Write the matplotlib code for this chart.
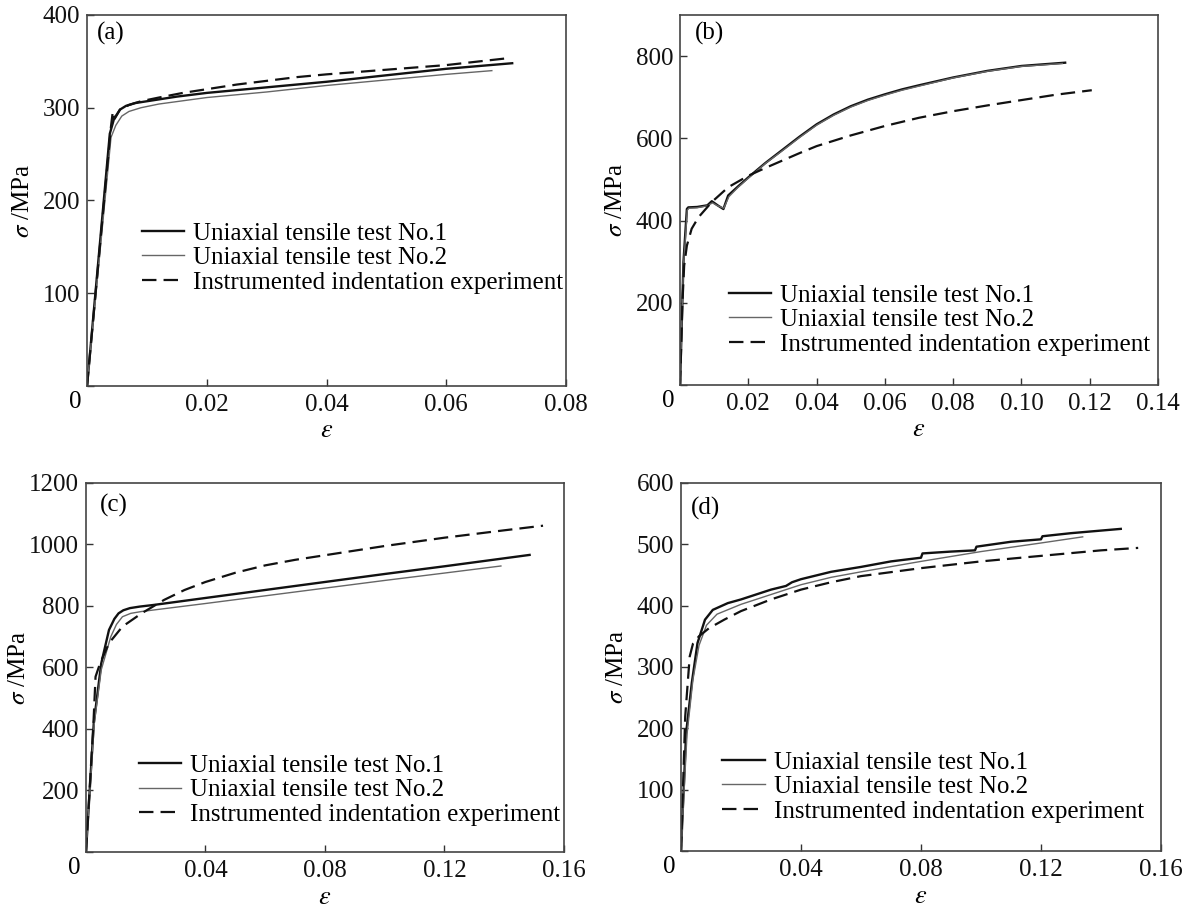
import matplotlib
matplotlib.use("Agg")
import matplotlib.pyplot as plt

plt.rcParams['font.family'] = ['Liberation Serif', 'DejaVu Serif']
plt.rcParams['mathtext.fontset'] = 'stix'

# ---- data (strain, stress in MPa) ----
# (a)
eps_a1 = [0, 0.0038, 0.0045, 0.0055, 0.0065, 0.008, 0.011, 0.015, 0.02, 0.03, 0.04, 0.05, 0.06, 0.071]
sig_a1 = [0, 272, 288, 298, 302, 305, 308, 312, 316, 322, 328, 335, 342, 348]
eps_a2 = [0, 0.0040, 0.0048, 0.0058, 0.007, 0.009, 0.012, 0.02, 0.03, 0.04, 0.05, 0.06, 0.0676]
sig_a2 = [0, 268, 281, 291, 296, 300, 304, 311, 317, 324, 330, 336, 340]
eps_a3 = [0, 0.0040, 0.0043, 0.0046, 0.0055, 0.007, 0.009, 0.012, 0.016, 0.02, 0.025, 0.03, 0.035,
          0.04, 0.05, 0.06, 0.0697]
sig_a3 = [0, 280, 296, 288, 298, 303, 307, 311, 316, 320, 325, 329, 333, 336, 341, 346, 353]

# (b)
eps_b1 = [0, 0.001, 0.0015, 0.0020, 0.0024, 0.005, 0.008, 0.0093, 0.011, 0.0127, 0.0141, 0.017, 0.02,
          0.025, 0.03, 0.035, 0.04, 0.045, 0.05, 0.055, 0.06, 0.065, 0.07, 0.08, 0.09, 0.10, 0.1128]
sig_b1 = [0, 299, 364, 428, 432, 433, 437, 447, 437, 428, 461, 483, 505,
          540, 572, 604, 634, 658, 678, 694, 707, 719, 729, 748, 764, 776, 784]
eps_b2 = [0, 0.001, 0.0016, 0.0021, 0.0026, 0.005, 0.008, 0.0095, 0.011, 0.0128, 0.0143, 0.017, 0.02,
          0.025, 0.03, 0.035, 0.04, 0.045, 0.05, 0.055, 0.06, 0.065, 0.07, 0.08, 0.09, 0.10, 0.112]
sig_b2 = [0, 290, 360, 425, 430, 431, 436, 443, 436, 430, 458, 481, 503,
          539, 570, 602, 632, 656, 676, 692, 705, 717, 727, 747, 763, 775, 782]
eps_b3 = [0, 0.0007, 0.0012, 0.002, 0.0034, 0.0054, 0.0093, 0.0141, 0.02, 0.025, 0.03, 0.035, 0.04,
          0.05, 0.06, 0.07, 0.08, 0.09, 0.10, 0.11, 0.1206]
sig_b3 = [0, 200, 290, 339, 380, 408, 445, 481, 509, 528, 546, 564, 581,
          607, 630, 650, 666, 680, 693, 706, 717]

# (c)
eps_c1 = [0, 0.0026, 0.0051, 0.0077, 0.0095, 0.0109, 0.0125, 0.0147, 0.018, 0.0224, 0.04, 0.06, 0.08,
          0.10, 0.12, 0.1485]
sig_c1 = [0, 418, 613, 722, 758, 776, 786, 793, 798, 803, 826, 852, 878, 904, 929, 966]
eps_c2 = [0, 0.0028, 0.0051, 0.0083, 0.0102, 0.0122, 0.015, 0.0186, 0.04, 0.06, 0.08, 0.10, 0.12, 0.1389]
sig_c2 = [0, 420, 592, 700, 740, 765, 776, 782, 808, 833, 858, 883, 907, 930]
eps_c3 = [0, 0.0025, 0.0032, 0.0047, 0.0077, 0.0122, 0.0186, 0.0262, 0.033, 0.04, 0.05, 0.06, 0.07,
          0.08, 0.10, 0.12, 0.14, 0.153]
sig_c3 = [0, 420, 570, 613, 679, 733, 776, 820, 852, 878, 908, 932, 950, 965, 995, 1022, 1046, 1061]

# (d)
eps_d1 = [0, 0.0017, 0.0036, 0.0055, 0.008, 0.0106, 0.0156, 0.02, 0.03, 0.035, 0.037, 0.04, 0.05,
          0.06, 0.07, 0.08, 0.0805, 0.09, 0.098, 0.0985, 0.11, 0.12, 0.1205, 0.13, 0.1466]
sig_d1 = [0, 192, 274, 339, 377, 393, 404, 410, 426, 432, 438, 443, 455,
          463, 472, 478, 485, 488, 490, 496, 504, 508, 513, 518, 525]
eps_d2 = [0, 0.002, 0.004, 0.006, 0.0085, 0.012, 0.02, 0.03, 0.04, 0.05, 0.06, 0.08, 0.10, 0.12, 0.1339]
sig_d2 = [0, 190, 280, 335, 368, 386, 402, 418, 434, 446, 455, 472, 488, 502, 512]
eps_d3 = [0, 0.0014, 0.0029, 0.004, 0.006, 0.0093, 0.0144, 0.02, 0.03, 0.04, 0.05, 0.06, 0.08, 0.10,
          0.12, 0.14, 0.1524]
sig_d3 = [0, 219, 317, 338, 350, 363, 377, 391, 410, 426, 438, 448, 461, 472, 481, 490, 494]

labels = ['Uniaxial tensile test No.1', 'Uniaxial tensile test No.2', 'Instrumented indentation experiment']

panels = [
    dict(tag='(a)', rect=[0.0734, 0.5754, 0.4039, 0.4081], xlim=0.08, xticks=[0, 0.02, 0.04, 0.06, 0.08],
         xlab=['', '0.02', '0.04', '0.06', '0.08'], ylim=400, yticks=[0, 100, 200, 300, 400],
         data=[(eps_a1, sig_a1), (eps_a2, sig_a2), (eps_a3, sig_a3)],
         leg=(0.114, 0.345), tagpos=(0.02, 0.95), ylx=-0.11),
    dict(tag='(b)', rect=[0.5734, 0.5765, 0.4030, 0.4070], xlim=0.14,
         xticks=[0, 0.02, 0.04, 0.06, 0.08, 0.10, 0.12, 0.14],
         xlab=['', '0.02', '0.04', '0.06', '0.08', '0.10', '0.12', '0.14'], ylim=900,
         yticks=[0, 200, 400, 600, 800],
         data=[(eps_b1, sig_b1), (eps_b2, sig_b2), (eps_b3, sig_b3)],
         leg=(0.102, 0.176), tagpos=(0.03, 0.95), ylx=-0.11),
    dict(tag='(c)', rect=[0.0725, 0.0627, 0.4030, 0.4060], xlim=0.16, xticks=[0, 0.04, 0.08, 0.12, 0.16],
         xlab=['', '0.04', '0.08', '0.12', '0.16'], ylim=1200, yticks=[0, 200, 400, 600, 800, 1000, 1200],
         data=[(eps_c1, sig_c1), (eps_c2, sig_c2), (eps_c3, sig_c3)],
         leg=(0.110, 0.168), tagpos=(0.029, 0.94), ylx=-0.118),
    dict(tag='(d)', rect=[0.5742, 0.0638, 0.4047, 0.4050], xlim=0.16, xticks=[0, 0.04, 0.08, 0.12, 0.16],
         xlab=['', '0.04', '0.08', '0.12', '0.16'], ylim=600, yticks=[0, 100, 200, 300, 400, 500, 600],
         data=[(eps_d1, sig_d1), (eps_d2, sig_d2), (eps_d3, sig_d3)],
         leg=(0.086, 0.174), tagpos=(0.02, 0.93), ylx=-0.11),
]

fig = plt.figure(figsize=(11.86, 9.09), dpi=100)
fs = 18

for p in panels:
    ax = fig.add_axes(p['rect'])
    (x1, y1), (x2, y2), (x3, y3) = p['data']
    ax.plot(x1, y1, color='#111111', lw=1.7, label=labels[0])
    ax.plot(x2, y2, color='#666666', lw=1.0, label=labels[1])
    ax.plot(x3, y3, color='#111111', lw=1.6, dashes=(6.5, 3.2), label=labels[2])

    ax.set_xlim(0, p['xlim'])
    ax.set_ylim(0, p['ylim'])
    ax.set_xticks(p['xticks'])
    ax.set_xticklabels(p['xlab'])
    ax.set_yticks(p['yticks'])
    ax.set_yticklabels([''] + [str(v) for v in p['yticks'][1:]])
    ax.tick_params(direction='in', length=5, width=1.0, colors='#333333', labelcolor='#111111',
                   labelsize=fs)
    ax.tick_params(axis='x', pad=6)
    ax.tick_params(axis='y', pad=5)
    for s in ax.spines.values():
        s.set_color('#444444')
        s.set_linewidth(1.2)

    ax.text(-0.025, -0.014, '0', transform=ax.transAxes, ha='center', va='top', fontsize=fs)
    ax.text(p['tagpos'][0], p['tagpos'][1], p['tag'], transform=ax.transAxes, ha='left', va='center',
            fontsize=fs)

    ax.set_xlabel(r'$\varepsilon$', fontsize=fs + 1, labelpad=3)
    ax.set_ylabel(r'$\sigma$ /MPa', fontsize=fs)
    ax.yaxis.set_label_coords(p['ylx'], 0.5)

    ax.legend(loc='center left', bbox_to_anchor=p['leg'], frameon=False, fontsize=fs,
              borderpad=0, borderaxespad=0, handlelength=1.7, handletextpad=0.35,
              labelspacing=0.08)

fig.savefig('out.png', dpi=100)
